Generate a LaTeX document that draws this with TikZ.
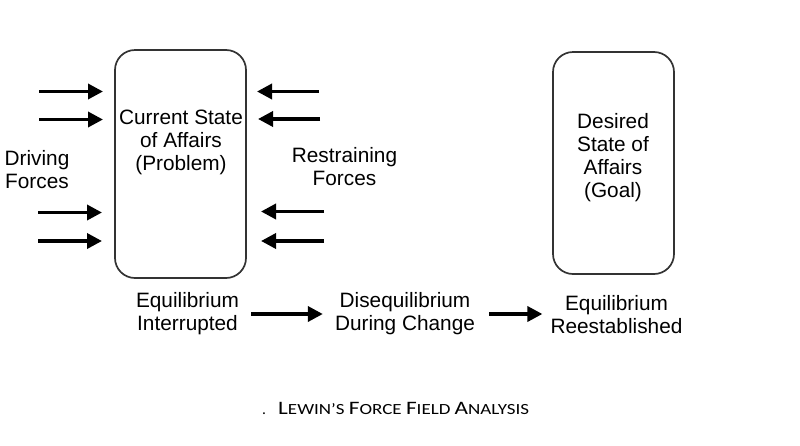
\documentclass[tikz,border=0pt]{standalone}
\usepackage{fontspec}
\setmainfont{Liberation Sans}
\newfontfamily\capfont{Carlito}
\usetikzlibrary{arrows.meta}
\tikzset{
  statebox/.style={draw=black!80, line width=1.7pt, rounded corners=20pt, minimum width=#1, inner sep=0pt},
  lbl/.style={align=center, inner sep=0pt, font=\fontsize{20.8}{23}\selectfont},
  force/.style={line width=3.5pt, -{Triangle[length=15pt,width=15pt]}},
}
\newcommand{\bigc}[1]{{\fontsize{19}{19}\selectfont #1}}
\begin{document}
\begin{tikzpicture}[x=1pt,y=-1pt]
\useasboundingbox[fill=white] (0,0) rectangle (800,445);
% boxes
\node[statebox=131pt, minimum height=228pt] (cur) at (180.5,164) {};
\node[statebox=121pt, minimum height=222pt] (des) at (613.5,163) {};
% box texts
\node[lbl] (curt) at (181,142.5) {Current State\\of Affairs\\(Problem)};
\node[lbl] (dest) at (613,158) {Desired\\State of\\Affairs\\(Goal)};
\node[lbl] (drv) at (37,170) {Driving\\Forces};
\node[lbl] (res) at (344.5,166.5) {Restraining\\Forces};
% left forces
\coordinate (l1s) at (39,91.5);  \coordinate (l1e) at (103,91.5);
\coordinate (l2s) at (39,119.5); \coordinate (l2e) at (103,119.5);
\coordinate (l3s) at (38,212.5); \coordinate (l3e) at (102,212.5);
\coordinate (l4s) at (38,241); \coordinate (l4e) at (102,241);
\foreach \i in {1,2,3,4} \draw[force] (l\i s) -- (l\i e);
% right forces
\coordinate (r1s) at (319,91.5);  \coordinate (r1e) at (257,91.5);
\coordinate (r2s) at (320,119); \coordinate (r2e) at (258,119);
\coordinate (r3s) at (324,211.5); \coordinate (r3e) at (261,211.5);
\coordinate (r4s) at (324,241); \coordinate (r4e) at (261,241);
\foreach \i in {1,2,3,4} \draw[force] (r\i s) -- (r\i e);
% bottom sequence
\node[lbl] (eq1) at (187.5,314) {Equilibrium\\Interrupted};
\node[lbl] (dis) at (405,314) {Disequilibrium\\During Change};
\node[lbl] (eq2) at (616.5,315) {Equilibrium\\Reestablished};
\draw[force, shorten <=12pt, shorten >=12pt] (eq1.east) -- (dis.west |- eq1.east);
\draw[force, shorten <=14pt, shorten >=8pt] (dis.east) -- (eq2.west |- dis.east);
% caption
\node[anchor=base west, inner sep=0pt] (dot) at (262,414) {\capfont\fontsize{15.5}{17}\selectfont .};
\node[anchor=base west, inner sep=0pt] (cap) at (278,414) {\resizebox{251pt}{\height}{\capfont\fontsize{15.5}{17}\selectfont \bigc{L}EWIN’S \bigc{F}ORCE \bigc{F}IELD \bigc{A}NALYSIS}};
\end{tikzpicture}
\end{document}
